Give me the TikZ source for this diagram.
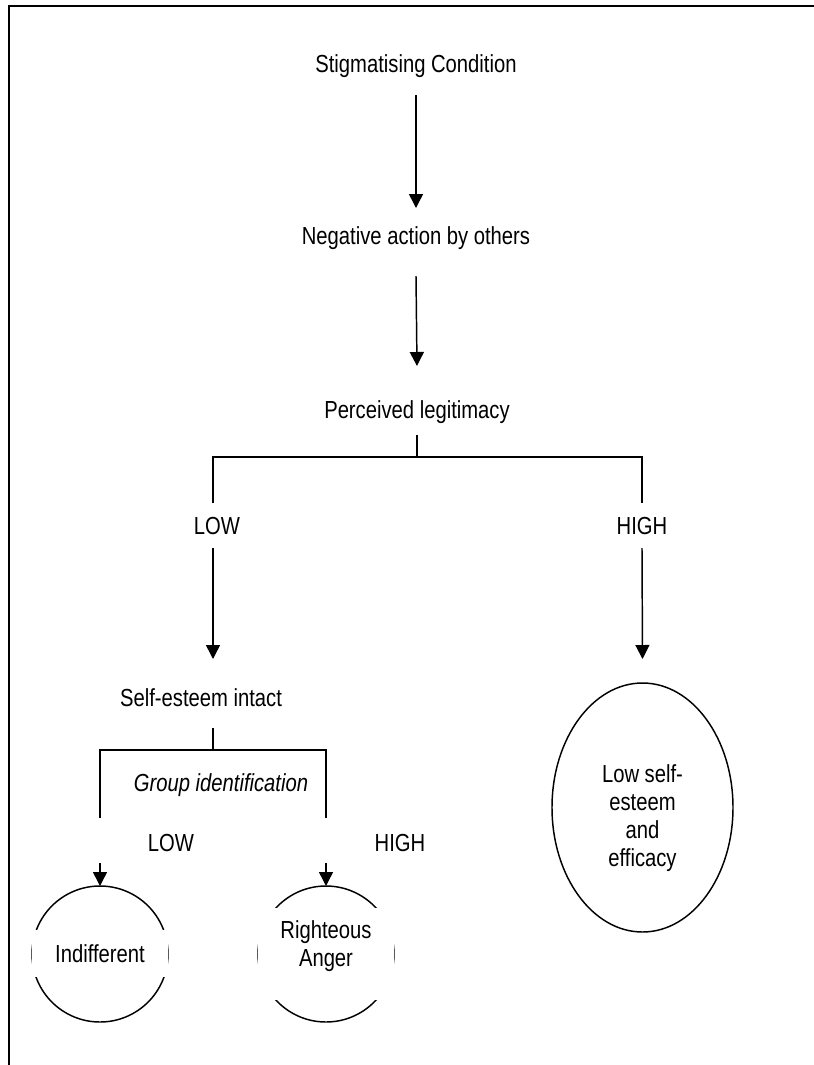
\documentclass[tikz,border=0pt]{standalone}
\usepackage{fontspec}
\setmainfont{Liberation Sans}[FakeStretch=0.82]
\usetikzlibrary{arrows.meta,calc,shapes.geometric}
\newcommand\diagfont{\fontsize{18.5pt}{21pt}\selectfont}
\begin{document}
\begin{tikzpicture}
[x=0.75pt,y=-0.75pt,
every node/.style={font=\diagfont,inner sep=0pt,outer sep=0pt},
line/.style={line width=1.1pt},
arr/.style={line width=1.1pt,-{Triangle[length=10.5pt,width=10.5pt]}},
ring/.style={draw,line width=1.1pt,circle,minimum size=102pt},
oval/.style={draw,line width=1.1pt,ellipse,minimum width=135.75pt,minimum height=186.75pt},
gapbox/.style={fill=white,minimum width=102.4pt},
]
\useasboundingbox (0,0) rectangle (814,1065);
\draw[line width=1.5pt] (9,1065) -- (9,6) -- (814,6);
\node (stig) at (416,66) {Stigmatising Condition};
\node (neg) at (416,238) {Negative action by others};
\node (perc) at (417,412) {Perceived legitimacy};
\node (lowA) at (217,526) {LOW};
\node (highA) at (642,526) {HIGH};
\node (intact) at (201,698) {Self-esteem intact};
\node[font=\diagfont\itshape] (groupid) at (221,785) {Group identification};
\node (lowB) at (171,843) {LOW};
\node (highB) at (400,843) {HIGH};
\node[ring] (indiffring) at (100,954) {};
\node[gapbox,minimum height=35.25pt] (indiff) at (100,953.5) {Indifferent};
\node[ring] (angerring) at (326,954) {};
\node[gapbox,minimum height=69pt] (angerbox) at (326,954) {};
\node[align=center] (anger) at (326,946.5) {Righteous\\Anger};
\node[oval] (lowse) at (642.5,807.5) {};
\node[align=center] (lowsetext) at (642.5,818) {Low self-\\esteem\\and\\efficacy};
\coordinate (forkA) at (417,457);
\coordinate (forkAl) at (213,457);
\coordinate (forkAr) at (642,457);
\coordinate (forkB) at (213,750);
\coordinate (forkBl) at (100,750);
\coordinate (forkBr) at (326,750);
\draw[arr] ($(stig)+(0,29)$) -- ($(neg)+(0,-30)$);
\draw[arr] ($(neg)+(0,38)$) -- ($(perc)+(0,-46)$);
\draw[line] ($(perc)+(0,23)$) -- (forkA);
\draw[line] ($(forkAl)+(0,46)$) -- (forkAl) -- (forkAr) -- ($(forkAr)+(0,46)$);
\draw[arr] ($(forkAl)+(0,91)$) -- ($(forkAl)+(0,202)$);
\draw[arr] ($(forkAr)+(0,91)$) -- ($(lowse.north)+(0,-24)$);
\draw[line] ($(intact)+(12,30)$) -- (forkB);
\draw[line] ($(forkBl)+(0,68)$) -- (forkBl) -- (forkBr) -- ($(forkBr)+(0,68)$);
\draw[arr] ($(indiffring.north)+(0,-23)$) -- (indiffring.north);
\draw[arr] ($(angerring.north)+(0,-23)$) -- (angerring.north);
\end{tikzpicture}
\end{document}
